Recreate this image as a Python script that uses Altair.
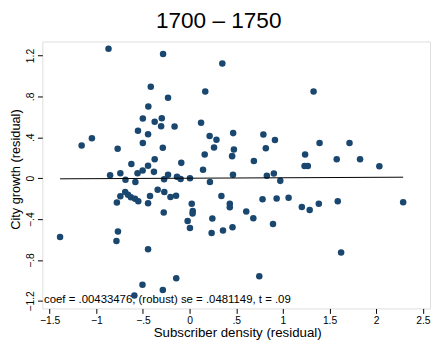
import altair as alt
import pandas as pd

title_text = "1700 – 1750"
x_title = "Subscriber density (residual)"
y_title = "City growth (residual)"
note_text = "coef = .00433476, (robust) se = .0481149, t = .09"

subscriber_density = [
    -0.869, -0.284, 0.351, -0.416, 0.168, -0.231, -0.442, -0.501, -0.374, -0.298,
    -0.305, -0.161, 0.123, -0.553, -0.445, 0.215, 0.288, 0.467, -1.157, -1.047,
    -0.771, -0.501, -0.287, 0.262, 0.475, 0.162, 0.456, -0.624, -0.445, -0.374,
    -0.089, 0.144, -0.852, -0.742, -0.558, -0.503, -0.382, -0.687, -0.581, -0.273,
    -0.231, -0.135, -0.096, 0.004, 0.218, 0.465, -0.742, -0.690, -0.660, -0.629,
    -0.585, -0.550, -0.779, -0.445, -0.424, -0.342, -0.271, -0.205, -0.145, -0.277,
    0.023, 0.034, 0.032, -0.021, 0.004, 0.341, 0.431, 0.431, 0.244, 0.236,
    0.358, 0.460, -1.388, -0.768, -0.784, -0.445, -0.143, -0.505, -0.287, -0.592,
    1.329, 0.791, 0.915, 0.817, 0.689, 1.238, 1.393, 1.714, 1.232, 1.267,
    1.577, 1.827, 2.034, 0.828, 0.903, 0.972, 0.782, 0.933, 1.061, 1.203,
    1.287, 1.385, 1.588, 2.289, 0.607, 0.683, 0.894, 1.624, 0.747,
]
city_growth = [
    1.267, 1.215, 1.123, 0.895, 0.847, 0.787, 0.701, 0.583, 0.553, 0.586,
    0.509, 0.505, 0.543, 0.464, 0.430, 0.414, 0.377, 0.441, 0.320, 0.390,
    0.289, 0.345, 0.298, 0.300, 0.281, 0.233, 0.216, 0.140, 0.123, 0.185,
    0.150, 0.083, 0.029, 0.049, 0.049, 0.075, 0.062, -0.016, -0.038, -0.009,
    0.035, 0.014, -0.007, 0.000, -0.036, 0.034, -0.177, -0.134, -0.162, -0.187,
    -0.202, -0.225, -0.237, -0.245, -0.175, -0.112, -0.134, -0.184, -0.172, -0.335,
    -0.249, -0.321, -0.345, -0.419, -0.487, -0.175, -0.249, -0.283, -0.393, -0.535,
    -0.512, -0.480, -0.576, -0.522, -0.614, -0.695, -0.979, -1.043, -1.094, -1.146,
    0.847, 0.428, 0.374, 0.294, 0.169, 0.233, 0.345, 0.345, 0.120, 0.120,
    0.185, 0.185, 0.118, 0.025, 0.046, -0.026, -0.206, -0.199, -0.192, -0.282,
    -0.311, -0.249, -0.225, -0.234, -0.326, -0.391, -0.448, -0.726, -0.960,
]

coef = 0.00433476
fit_x = [min(subscriber_density), max(subscriber_density)]
fit_y = [coef * v for v in fit_x]

x_ticks = [-1.5, -1, -0.5, 0, 0.5, 1, 1.5, 2, 2.5]
x_tick_labels = ["−1.5", "−1", "−.5", "0", ".5", "1", "1.5", "2", "2.5"]
y_ticks = [-1.2, -0.8, -0.4, 0, 0.4, 0.8, 1.2]
y_tick_labels = ["−1.2", "−.8", "−.4", "0", ".4", ".8", "1.2"]

FONT = "Liberation Sans"
NAVY = "#1a476f"


def label_expr(vals, labels):
    parts = [f"abs(datum.value - ({v})) < 1e-6 ? '{l}'" for v, l in zip(vals, labels)]
    return " : ".join(parts) + " : ''"


pts = pd.DataFrame({"x": subscriber_density, "y": city_growth})
fit = pd.DataFrame({"x": fit_x, "y": fit_y})

x_scale = alt.Scale(domain=[-1.578, 2.577], nice=False, zero=False)
y_scale = alt.Scale(domain=[-1.274, 1.337], nice=False, zero=False)

x_axis = alt.Axis(
    values=x_ticks, labelExpr=label_expr(x_ticks, x_tick_labels), title=x_title,
    grid=False, domain=False, tickSize=5, tickColor="black", tickWidth=1,
    labelFont=FONT, labelFontSize=10.5, labelColor="black",
    labelBaseline="alphabetic", labelPadding=10, labelAlign="center", labelFlush=False,
    labelOverlap=False,
    titleFont=FONT, titleFontSize=13.5, titleFontWeight="normal", titleColor="black",
    titleBaseline="alphabetic", titleY=28.3, titleX=198.5, titleAlign="center",
)
y_axis = alt.Axis(
    values=y_ticks, labelExpr=label_expr(y_ticks, y_tick_labels), title=y_title,
    grid=False, domain=False, tickSize=5, tickColor="black", tickWidth=1,
    labelFont=FONT, labelFontSize=10.5, labelColor="black",
    labelAngle=270, labelAlign="center", labelBaseline="alphabetic", labelPadding=4.5,
    labelFlush=False, labelOverlap=False,
    titleFont=FONT, titleFontSize=13, titleFontWeight="normal", titleColor="black",
    titleAngle=270, titleBaseline="alphabetic", titleAlign="center",
    titleX=-23.5, titleY=130,
)

points = alt.Chart(pts).mark_point(
    filled=True, shape="circle", size=44, color=NAVY, opacity=1
).encode(
    x=alt.X("x:Q", scale=x_scale, axis=x_axis),
    y=alt.Y("y:Q", scale=y_scale, axis=y_axis),
)

line = alt.Chart(fit).mark_line(color="black", strokeWidth=1).encode(
    x=alt.X("x:Q", scale=x_scale),
    y=alt.Y("y:Q", scale=y_scale),
)

note = alt.Chart(pd.DataFrame({"t": [note_text]})).mark_text(
    align="left", baseline="middle", font=FONT, fontSize=11.6, color="black"
).encode(
    x=alt.datum(-1.56, scale=x_scale),
    y=alt.datum(-1.194, scale=y_scale),
    text="t:N",
)

title_mark = alt.Chart(pd.DataFrame({"t": [title_text]})).mark_text(
    align="center", baseline="alphabetic", font=FONT, fontSize=23, color="black"
).encode(
    x=alt.datum(0.312, scale=x_scale),
    y=alt.datum(1.465, scale=y_scale),
    text="t:N",
)

chart = alt.layer(points, line, note, title_mark).properties(
    width=395,
    height=272,
    autosize=alt.AutoSizeParams(type="none"),
    padding={"left": 35, "top": 31, "right": 2, "bottom": 30},
).configure_view(stroke="black", strokeWidth=1).configure(background="white")

chart.save("out.html", embed_options={"renderer": "svg", "actions": False})
